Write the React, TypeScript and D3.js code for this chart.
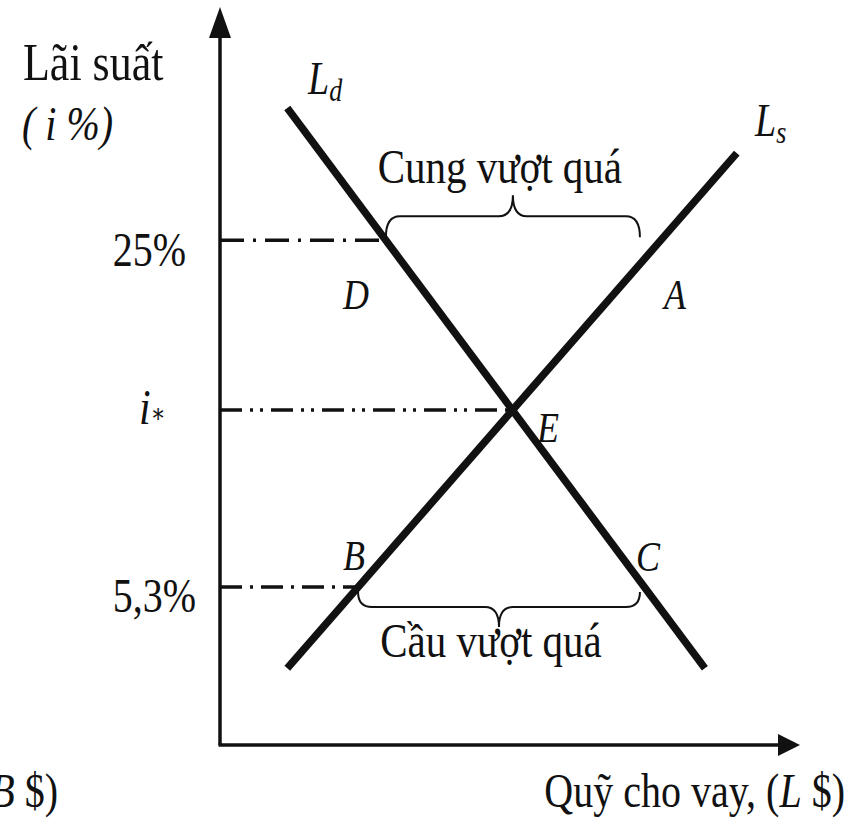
import React from "react";
import * as d3 from "d3";

// Schematic loanable-funds market (abstract units 0..10 on both axes)
const axisMax = [10, 10];
// Demand curve L_d and supply curve L_s endpoints [quantity, rate]
const demandLine: [number, number][] = [[1.16, 8.63], [8.36, 1.04]];
const supplyLine: [number, number][] = [[1.16, 1.04], [8.91, 8.02]];
// Rate levels shown on the vertical axis
const rateLabels = ["25%", "i*", "5,3%"];
const rateLevels = [6.84, 4.54, 2.14];
// Brace extents (quantity units)
const excessSupply = [2.86, 7.24];
const excessDemand = [2.38, 7.24];
const braceLabels = ["Cung vượt quá", "Cầu vượt quá"];
const pointLabels = ["D", "A", "E", "B", "C"];

const W = 862;
const H = 828;
const FONT = "'Liberation Serif', 'DejaVu Serif', serif";
const SY = 1.2;

const x = d3.scaleLinear().domain([0, axisMax[0]]).range([220, 800]);
const y = d3.scaleLinear().domain([0, axisMax[1]]).range([745, 7]);

function xAt(line: [number, number][], rate: number) {
  const [[x1, y1], [x2, y2]] = line;
  return x1 + ((rate - y1) * (x2 - x1)) / (y2 - y1);
}
function intersect(a: [number, number][], b: [number, number][]) {
  const [[ax1, ay1], [ax2, ay2]] = a;
  const [[bx1, by1], [bx2, by2]] = b;
  const ma = (ay2 - ay1) / (ax2 - ax1);
  const mb = (by2 - by1) / (bx2 - bx1);
  const xi = (by1 - ay1 + ma * ax1 - mb * bx1) / (ma - mb);
  return [xi, ay1 + ma * (xi - ax1)];
}

function brace(x1: number, x2: number, yEnd: number, yMid: number, yTip: number) {
  const xm = (x1 + x2) / 2;
  const q = 14;
  const p = d3.path();
  p.moveTo(x1, yEnd);
  p.quadraticCurveTo(x1, yMid, x1 + q, yMid);
  p.lineTo(xm - q, yMid);
  p.quadraticCurveTo(xm, yMid, xm, yTip);
  p.quadraticCurveTo(xm, yMid, xm + q, yMid);
  p.lineTo(x2 - q, yMid);
  p.quadraticCurveTo(x2, yMid, x2, yEnd);
  return p.toString();
}

const T = ({ x: tx, y: ty, size = 40, italic = false, anchor = "start", children }: any) => (
  <text
    transform={`translate(${tx},${ty}) scale(1,${SY})`}
    fontFamily={FONT}
    fontSize={size}
    fontStyle={italic ? "italic" : "normal"}
    textAnchor={anchor}
    fill="#111"
  >
    {children}
  </text>
);

export default function App() {
  const line = d3.line<[number, number]>().x((d) => x(d[0])).y((d) => y(d[1]));
  const E = intersect(demandLine, supplyLine);
  const ends = [
    xAt(demandLine, rateLevels[0]),
    E[0],
    xAt(supplyLine, rateLevels[2]),
  ];
  const dashes = ["24 9 3 9", "22 8 3 7 3 8", "22 8 3 8"];
  const x0 = x(0);
  const y0 = y(0);
  const xTop = x(axisMax[0]);
  const yTop = y(axisMax[1]);
  const yHigh = y(rateLevels[0]);
  const yLow = y(rateLevels[2]);

  return (
    <svg
      width={W}
      height={H}
      style={{ position: "absolute", left: 0, top: 0, background: "#fff" }}
    >
      {/* rate guide lines */}
      {rateLevels.map((r, i) => (
        <line
          key={i}
          x1={x0}
          x2={x(ends[i])}
          y1={y(r)}
          y2={y(r)}
          stroke="#111"
          strokeWidth={3.5}
          strokeDasharray={dashes[i]}
        />
      ))}
      {/* axes */}
      <line x1={x0} y1={y0} x2={x0} y2={yTop + 20} stroke="#111" strokeWidth={3.5} />
      <line x1={x0 - 1.5} y1={y0} x2={xTop - 20} y2={y0} stroke="#111" strokeWidth={3.5} />
      <path d={`M${x0},${yTop} L${x0 - 11},${yTop + 31} L${x0 + 11},${yTop + 31} Z`} fill="#111" />
      <path d={`M${xTop},${y0} L${xTop - 22},${y0 - 11} L${xTop - 22},${y0 + 11} Z`} fill="#111" />

      {/* curves */}
      <path d={line(demandLine) || ""} stroke="#111" strokeWidth={7.5} fill="none" />
      <path d={line(supplyLine) || ""} stroke="#111" strokeWidth={7.5} fill="none" />

      {/* braces */}
      <path
        d={brace(x(excessSupply[0]), x(excessSupply[1]), yHigh - 3, yHigh - 24, yHigh - 45)}
        stroke="#111"
        strokeWidth={2}
        fill="none"
      />
      <path
        d={brace(x(excessDemand[0]), x(excessDemand[1]), yLow + 5, yLow + 20, yLow + 40)}
        stroke="#111"
        strokeWidth={2}
        fill="none"
      />

      {/* axis titles */}
      <T x={23} y={80} size={44}>Lãi suất</T>
      <T x={22} y={140} size={40} italic>( i %)</T>
      <T x={58} y={807} size={40} anchor="end">
        (<tspan fontStyle="italic">B</tspan> $)
      </T>
      <T x={845} y={807} size={40} anchor="end">
        Quỹ cho vay, (<tspan fontStyle="italic">L</tspan> $)
      </T>

      {/* rate labels */}
      <T x={186} y={266} size={40} anchor="end">{rateLabels[0]}</T>
      <T x={139} y={424} size={42} italic>
        i<tspan fontSize={22} dy={-2} fontStyle="normal">∗</tspan>
      </T>
      <T x={196} y={612} size={40} anchor="end">{rateLabels[2]}</T>

      {/* curve labels */}
      <T x={308} y={94} size={38} italic>
        L<tspan fontSize={26} dy={6}>d</tspan>
      </T>
      <T x={755} y={136} size={38} italic>
        L<tspan fontSize={26} dy={6}>s</tspan>
      </T>

      {/* brace labels */}
      <T x={(x(excessSupply[0]) + x(excessSupply[1])) / 2 - 13} y={183} size={41} anchor="middle">
        {braceLabels[0]}
      </T>
      <T x={(x(excessDemand[0]) + x(excessDemand[1])) / 2 - 8} y={657} size={41} anchor="middle">
        {braceLabels[1]}
      </T>

      {/* point labels */}
      <T x={343} y={309} size={36} italic>{pointLabels[0]}</T>
      <T x={664} y={309} size={36} italic>{pointLabels[1]}</T>
      <T x={537} y={442} size={36} italic>{pointLabels[2]}</T>
      <T x={343} y={570} size={36} italic>{pointLabels[3]}</T>
      <T x={636} y={571} size={36} italic>{pointLabels[4]}</T>
    </svg>
  );
}
